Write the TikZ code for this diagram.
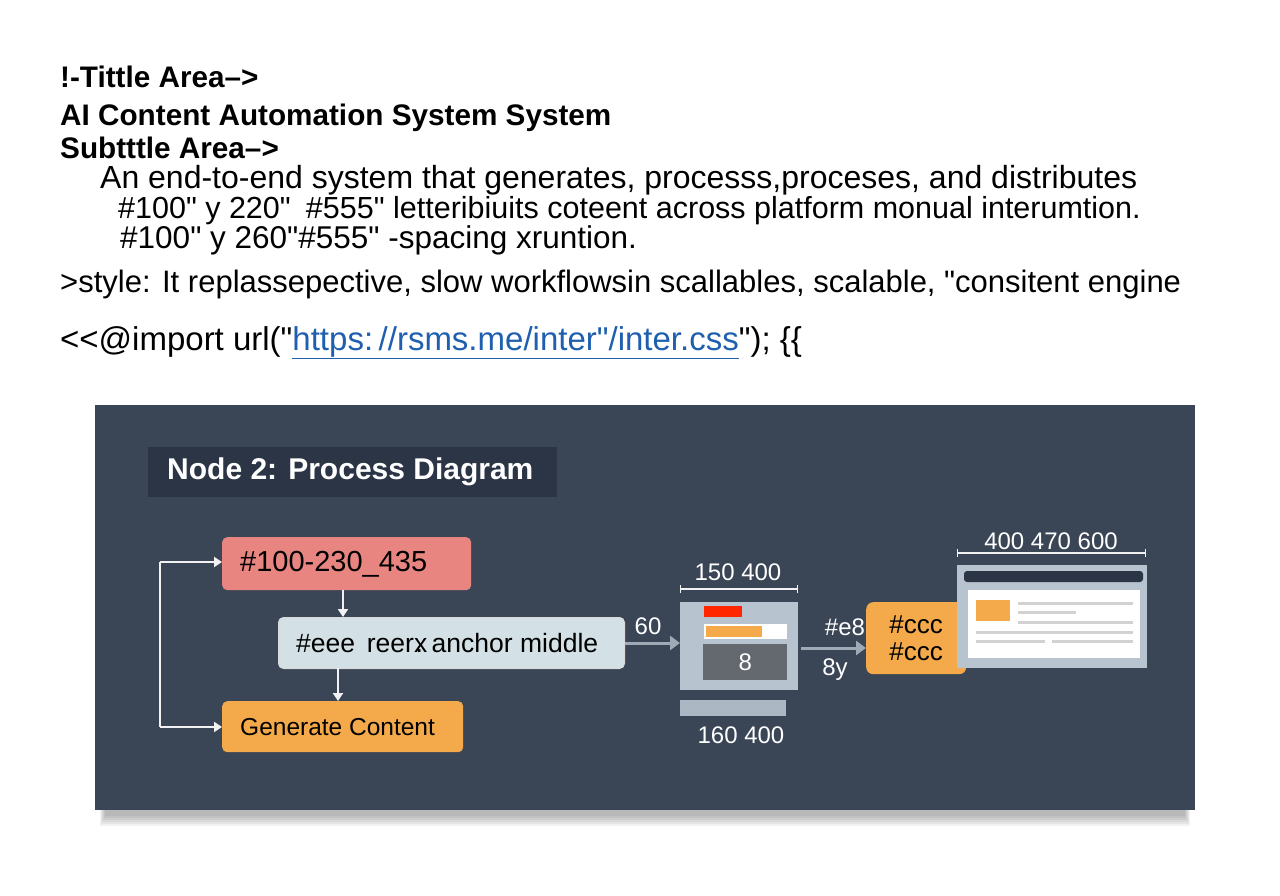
\documentclass[tikz,border=0pt]{standalone}
\usepackage{fontspec}
\setmainfont{Liberation Sans}[Ligatures=TeXOff]
\usetikzlibrary{arrows.meta}
\definecolor{panel}{HTML}{3A4556}
\definecolor{panelhd}{HTML}{2B3545}
\definecolor{redbox}{HTML}{E98580}
\definecolor{lightbox}{HTML}{D3E1E6}
\definecolor{orangebox}{HTML}{F4AA4A}
\definecolor{steel}{HTML}{B7C4CF}
\definecolor{linkblue}{HTML}{1F5FAF}
\newcommand{\qq}{"}
\begin{document}
\begin{tikzpicture}[x=1pt,y=-1pt,
  hd/.style={anchor=base west,font=\fontsize{29.7}{29}\selectfont\bfseries,text=black,inner sep=0},
  bd/.style={anchor=base west,font=\fontsize{31}{31}\selectfont,text=black,inner sep=0},
  sm/.style={anchor=base west,font=\fontsize{30.5}{30}\selectfont,text=black,inner sep=0},
  box/.style={draw=none,rounded corners=5pt,minimum height=52pt,anchor=north west,inner sep=0},
  wt/.style={text=white,font=\fontsize{24}{24}\selectfont,inner sep=0},
  arr/.style={draw=#1,line width=3pt,-{Triangle[length=10pt,width=14pt]}},
  warr/.style={draw=white!90!gray,line width=1.8pt,-{Triangle[length=8pt,width=10pt]}},
  dim/.style={draw=white!90!gray,line width=1.2pt,|-|}]
\useasboundingbox (0,0) rectangle (1280,896);
\fill[white] (0,0) rectangle (1280,896);
% header text
\node[hd] (t1) at (60,88) {!-Tittle Area–>};
\node[hd] (t2) at (60,126) {AI Content Automation System System};
\node[hd] (t3) at (60,159) {Subtttle Area–>};
\node[bd,font=\fontsize{32}{32}\selectfont] (t4) at (100,189) {An end-to-end system that generates, processs,proceses, and distributes};
\node[sm] (t5) at (118,219) {\#100\qq{} y 220\qq\enspace\#555\qq{} letteribiuits coteent across platform monual interumtion.};
\node[sm,font=\fontsize{31.5}{31}\selectfont] (t6) at (120,249) {\#100\qq{} y 260\qq\#555\qq{} -spacing xruntion.};
\node[bd] (t7) at (60,292) {>style: It replassepective, slow workflowsin scallables, scalable, \qq consitent engine};
\node[bd,font=\fontsize{33}{33}\selectfont] (t8) at (60,350) {<{}<@import url(\qq\textcolor{linkblue}{\underline{https:\,//rsms.me/inter\qq/inter.css}}\qq); \{\{};
% panel
\foreach \i in {0,...,5}
  \fill[black,opacity=0.05] (100+\i,808) rectangle (1190-\i,826-2*\i);
\fill[panel] (95,405) rectangle (1195,810);
\node[fill=panelhd,anchor=north west,minimum width=409pt,minimum height=50pt,inner sep=0] (ph) at (148,447) {};
\node[anchor=west,text=white,font=\fontsize{30}{30}\selectfont\bfseries,inner sep=0] (pt) at (167,472) {Node 2: Process Diagram};
% left flow
\node[box,fill=redbox,minimum width=249pt,minimum height=53pt] (r) at (222,537) {};
\node[anchor=west,font=\fontsize{29}{28}\selectfont,inner sep=0] (rt) at (240,564) {\#100-230\_435};
\node[box,fill=lightbox,draw=white!70!gray,line width=1pt,minimum width=346pt,minimum height=51pt] (l) at (278,617) {};
\node[anchor=west,font=\fontsize{26.5}{26}\selectfont,inner sep=0] (lt2) at (296,643) {\#eee\, reerx\makebox[0pt][r]{.\,}\,anchor middle};
\node[box,fill=orangebox,minimum width=241pt,minimum height=51pt] (o) at (222,701) {};
\node[anchor=west,font=\fontsize{24.5}{24}\selectfont,inner sep=0] (ot) at (240,727) {Generate Content};
\coordinate (ca) at (343,590);
\coordinate (cb) at (343,617);
\coordinate (cc) at (338,668);
\coordinate (cd) at (338,701);
\draw[warr] (ca) -- (cb);
\draw[warr] (cc) -- (cd);
\coordinate (lt) at (160,562);
\coordinate (lb) at (160,727);
\draw[white!90!gray,line width=1.8pt] (lt) -- (lb);
\draw[warr] (lt) -- (r.west |- lt);
\draw[warr] (lb) -- (o.west |- lb);
% module
\node[fill=steel,anchor=north west,minimum width=118pt,minimum height=88pt,inner sep=0] (m) at (680,602) {};
\draw[arr=steel!80!panel] (l.east) -- (m.west |- l.east);
\node[wt] (n60) at (648,626) {60};
\fill[red!70!orange] (704,606) rectangle (742,617);
\fill[white] (704,624) rectangle (787,639);
\fill[orangebox] (706,626) rectangle (762,637);
\node[fill=gray!60!panel,anchor=north west,minimum width=84pt,minimum height=36pt,inner sep=0,text=white,font=\fontsize{24}{24}\selectfont] (m8) at (703,644) {8};
\coordinate (d1) at (680,589); \coordinate (d2) at (798,589);
\draw[dim] (d1) -- (d2);
\node[wt] (n150) at (738,572) {150 400};
\fill[steel!90!panel] (680,700) rectangle (786,716);
\node[wt] (n160) at (741,735) {160 400};
% callout
\node[fill=orangebox,rounded corners=7pt,anchor=north west,minimum width=100pt,minimum height=72pt,inner sep=0,align=left,font=\fontsize{26}{27}\selectfont] (cl) at (866,602) {\#ccc\\\#ccc};
\fill[orangebox] (965,625) -- (980,634) -- (965,643) -- cycle;
\coordinate (ms) at (801,648);
\draw[arr=steel!80!panel] (ms) -- (cl.west |- ms);
\node[wt] (ne8) at (845,627) {\#e8};
\node[wt] (n8y) at (835,670) {8y};
% window
\node[fill=steel,anchor=north west,minimum width=190pt,minimum height=103pt,inner sep=0] (w) at (957,565) {};
\fill[panelhd,rounded corners=3pt] (964,571) rectangle (1143,582);
\fill[white] (968,590) rectangle (1140,658);
\fill[orangebox] (976,600) rectangle (1010,621);
\foreach \y/\a/\b in {603/1018/1133, 612/1018/1076, 622/1018/1133, 632/976/1133}
  \fill[gray!35] (\a,\y-1.5) rectangle (\b,\y+1.5);
\fill[gray!35] (976,640) rectangle (1045,643);
\fill[gray!35] (1052,640) rectangle (1133,643);
\coordinate (e1) at (957,553); \coordinate (e2) at (1146,553);
\draw[dim] (e1) -- (e2);
\node[wt] (n400) at (1051,541) {400 470 600};
\end{tikzpicture}
\end{document}
